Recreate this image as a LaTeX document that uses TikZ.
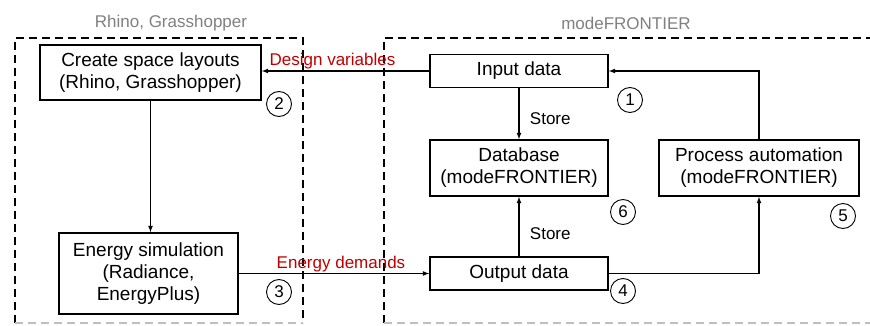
\documentclass[tikz,border=0pt]{standalone}
\usepackage{fontspec}
\setmainfont{Liberation Sans}
\usepackage{tikz}
\usetikzlibrary{shapes.geometric, arrows}
\definecolor{labelred}{HTML}{C00000}
\definecolor{titlegray}{HTML}{808080}
\tikzstyle{toolbox} = [draw=black, line width=1.8pt, dash pattern=on 8pt off 5pt]
\tikzstyle{process} = [rectangle, line width=1.6pt, text centered, align=center, draw=black, fill=white, inner sep=2pt, font=\fontsize{19}{22}\selectfont]
\tikzstyle{stepnum} = [circle, draw=black, line width=0.9pt, minimum size=25pt, inner sep=0pt, font=\fontsize{17}{17}\selectfont]
\tikzstyle{title} = [text=titlegray, font=\fontsize{17}{17}\selectfont]
\tikzstyle{flow} = [text=labelred, font=\fontsize{17}{17}\selectfont]
\tikzstyle{arrow} = [line width=1.2pt,->,>=latex]

\begin{document}
\begin{tikzpicture}[x=1pt, y=-1pt]
	\useasboundingbox (0,0) rectangle (870,326);

	% tool boundaries
	\draw [toolbox] (15,323) -- (15,38) -- (303,38) -- (303,323);
	\draw [toolbox, draw=black!25] (15,323) -- (303,323);
	\draw [toolbox] (384,323) -- (384,38) -- (870,38);
	\draw [toolbox, draw=black!25] (384,323) -- (870,323);
	\node (rhino) [title] at (171,23) {Rhino, Grasshopper};
	\node (mf) [title] at (626,23) {modeFRONTIER};

	\node (create) [process, minimum width=221pt, minimum height=55pt] at (150.5,72.5) {Create space layouts\\(Rhino, Grasshopper)};
	\node (energy) [process, minimum width=179pt, minimum height=81pt] at (148.5,273.5) {Energy simulation\\(Radiance,\\EnergyPlus)};
	\node (input) [process, minimum width=178pt, minimum height=33pt] at (519,71) {Input  data};
	\node (database) [process, minimum width=178pt, minimum height=56pt] at (519,168) {Database\\(modeFRONTIER)};
	\node (automation) [process, minimum width=200pt, minimum height=56pt] at (759,168) {Process automation\\(modeFRONTIER)};
	\node (output) [process, minimum width=178pt, minimum height=33pt] at (519,273.5) {Output  data};

	\node (one) [stepnum] at (630,100) {1};
	\node (two) [stepnum] at (279,104) {2};
	\node (three) [stepnum] at (279,292) {3};
	\node (four) [stepnum] at (623,291) {4};
	\node (five) [stepnum] at (843,216) {5};
	\node (six) [stepnum] at (623,212) {6};

	\draw [arrow] (input.west) -- node[flow, above, xshift=-13pt, yshift=-2pt] {Design variables} (input.west -| create.east);
	\draw [arrow] (create.south) -- (create.south |- energy.north);
	\draw [arrow] (energy.east |- output.west) -- node[flow, above, xshift=7pt, yshift=-2pt] {Energy demands} (output.west);
	\draw [arrow] (input.south) -- node[right, xshift=7pt, yshift=-5pt, font=\fontsize{17}{17}\selectfont] {Store} (database.north);
	\draw [arrow] (output.north) -- node[right, xshift=7pt, yshift=-7pt, font=\fontsize{17}{17}\selectfont] {Store} (database.south);
	\draw [arrow] (output.east) -| (automation.south);
	\draw [arrow] (automation.north) |- (input.east);
\end{tikzpicture}
\end{document}
